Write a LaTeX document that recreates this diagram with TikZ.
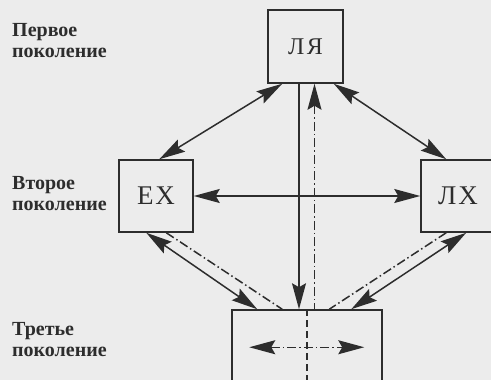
\documentclass[tikz,border=0pt]{standalone}
\usepackage{fontspec}
\setmainfont{Liberation Serif}
\usetikzlibrary{arrows.meta,calc}
\definecolor{bg}{RGB}{236,236,236}
\definecolor{ink}{RGB}{45,45,45}
\begin{document}
\begin{tikzpicture}[x=1pt,y=-1pt,
  box/.style={draw=ink, line width=1.5pt, minimum width=74pt, minimum height=72pt, inner sep=0pt, text=ink},
  gen/.style={anchor=north west, font=\bfseries\fontsize{20}{21}\selectfont, text=ink, inner sep=0pt, align=left},
  conn/.style={draw=ink, line width=1.5pt},
  endarr/.style={-{Stealth[length=26pt,width=14pt,inset=4pt]}},
  startarr/.style={{Stealth[length=26pt,width=14pt,inset=4pt]}-},
  botharr/.style={{Stealth[length=26pt,width=14pt,inset=4pt]}-{Stealth[length=26pt,width=14pt,inset=4pt]}},
  dd/.style={dash pattern=on 9pt off 3pt on 1.5pt off 3pt},
  dsh/.style={dash pattern=on 7pt off 4pt}
]
\useasboundingbox (0,0) rectangle (491,380);
\fill[bg] (0,0) rectangle (491,380);

% labels
\node[gen] (g1) at (12,23) {Первое\\поколение};
\node[gen] (g2) at (12,176) {Второе\\поколение};
\node[gen] (g3) at (12,322) {Третье\\поколение};

% boxes
\node[box, minimum width=75pt, minimum height=73pt, font=\fontsize{24}{24}\selectfont] (LYa) at (305.5,46.5) {Л\kern2.5ptЯ};
\node[box, font=\fontsize{27}{27}\selectfont] (EX) at (156,196) {Е\kern2ptХ};
\node[box, font=\fontsize{27}{27}\selectfont] (LX) at (458,196) {Л\kern2ptХ};
\node[box, minimum width=150pt, minimum height=90pt] (G3) at (307,355) {};

% helper coordinates
\coordinate (vsol) at ($(LYa.south)+(-6.5,0)$);
\coordinate (vdd) at ($(LYa.south)+(9,0)$);

% first <-> second
\draw[conn,botharr] ($(LYa.south west)+(15,0)$) -- ($(EX.north west)+(41,0)$);
\draw[conn,botharr] ($(LYa.south east)+(-10,0)$) -- ($(LX.north west)+(26,0)$);
\draw[conn,botharr] (EX.east) -- (LX.west);

% vertical links first <-> third
\draw[conn,endarr] (vsol) -- (vsol |- G3.north);
\draw[conn,dd,startarr] (vdd) -- (vdd |- G3.north);

% second <-> third
\draw[conn,botharr] ($(EX.south west)+(28,0)$) -- ($(G3.north west)+(26,0)$);
\draw[conn,dd] ($(EX.south west)+(48,0)$) -- ($(G3.north west)+(51,0)$);
\draw[conn,botharr] ($(LX.south west)+(46,0)$) -- ($(G3.north west)+(120,0)$);
\draw[conn,dd] ($(LX.south west)+(26,0)$) -- ($(G3.north west)+(98,0)$);

% inside third box
\draw[conn,dsh] (G3.north) -- (G3.south);
\draw[conn,dd,botharr] ($(G3.north west)+(18,38)$) -- ($(G3.north west)+(133,38)$);
\end{tikzpicture}
\end{document}
